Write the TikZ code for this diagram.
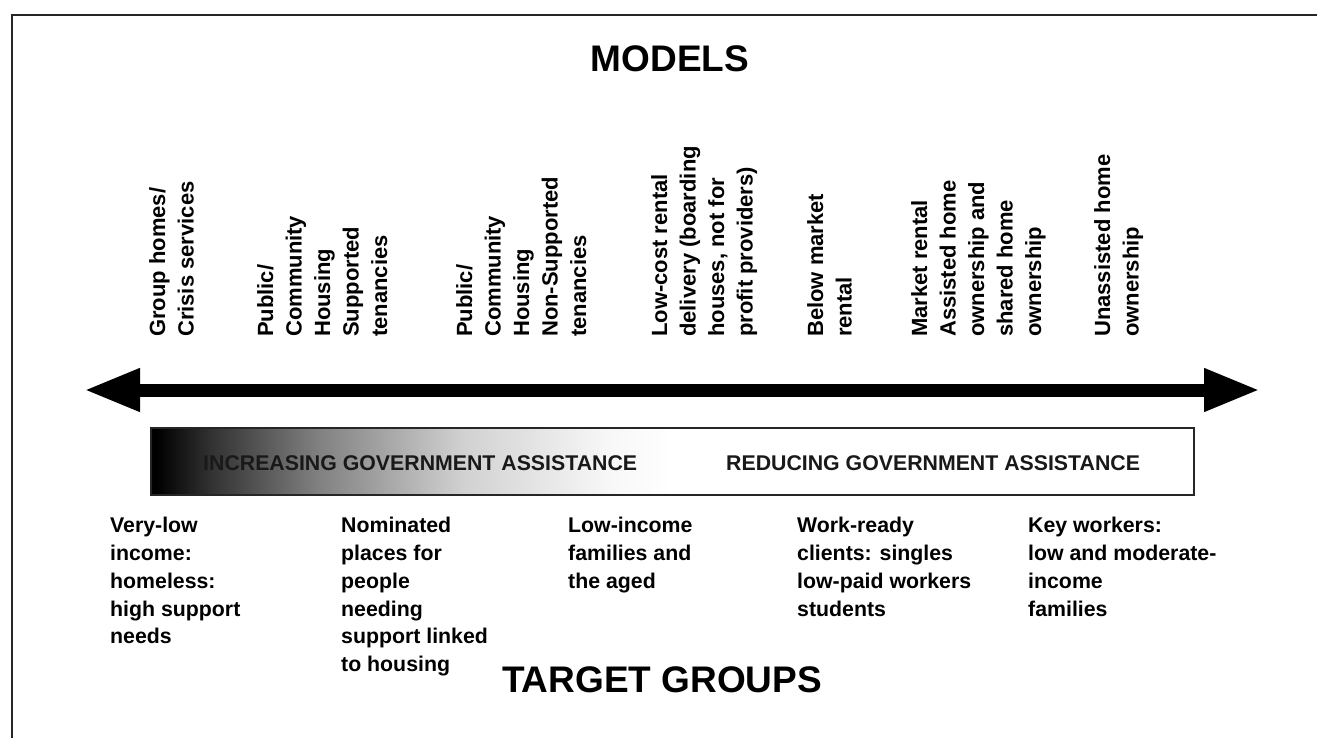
\documentclass[tikz,border=0pt]{standalone}
\usepackage{fontspec}
\setmainfont{Liberation Sans}
\usetikzlibrary{arrows.meta}
\pgfdeclarehorizontalshading{govshade}{100bp}{color(0bp)=(black); color(25.3bp)=(black); color(28bp)=(black!80); color(33bp)=(black!50); color(40bp)=(black!18); color(47bp)=(black!3); color(50bp)=(white); color(100bp)=(white)}
\begin{document}
\begin{tikzpicture}[x=1pt,y=-1pt,
  title/.style={font=\fontsize{37}{40}\selectfont\bfseries, inner sep=0, anchor=base},
  model/.style={rotate=90, anchor=north west, align=left, inner sep=0, font=\fontsize{22}{28.5}\selectfont\bfseries},
  target/.style={anchor=north west, align=left, inner sep=0, font=\fontsize{21.3}{27.8}\selectfont\bfseries},
  bartext/.style={anchor=base west, inner sep=0, font=\fontsize{21.3}{23}\selectfont\bfseries, text=black!90},
  frameline/.style={line width=2pt, draw=black!85},
  axisarrow/.style={line width=13pt, {Triangle[length=56pt,width=40pt]}-{Triangle[length=56pt,width=40pt]}}]
\useasboundingbox (0,0) rectangle (1317,738);
% frame
\coordinate (fTR) at (1317,15);
\coordinate (fTL) at (12,15);
\coordinate (fBL) at (12,738);
\draw[frameline] (fTR) -- (fTL) -- (fBL);
% titles
\node[title] (models) at (670,72) {MODELS};
\node[title] (targets) at (662,692) {TARGET GROUPS};
% models
\node[model] (m1) at (149,337) {Group homes/\\Crisis services};
\node[model] (m2) at (257,337) {Public/\\Community\\Housing\\Supported\\tenancies};
\node[model] (m3) at (456,337) {Public/\\Community\\Housing\\Non-Supported\\tenancies};
\node[model] (m4) at (651,337) {Low-cost rental\\delivery (boarding\\houses, not for\\profit providers)};
\node[model] (m5) at (807,337) {Below market\\rental};
\node[model] (m6) at (911,337) {Market rental\\Assisted home\\ownership and\\shared home\\ownership};
\node[model] (m7) at (1094,337) {Unassisted home\\ownership};
% axis arrow
\coordinate (aL) at (84,390);
\coordinate (aR) at (1260,390);
\draw[axisarrow] (aL) -- (aR);
% assistance bar
\shade[shading=govshade] (150,427) rectangle (1193,494);
\node[draw=black!85, line width=1.5pt, minimum width=1043pt, minimum height=67pt, inner sep=0, anchor=north west] (bar) at (150,427) {};
\node[bartext] (inc) at (203,470) {INCREASING GOVERNMENT ASSISTANCE};
\node[bartext] (red) at (726,470) {REDUCING GOVERNMENT ASSISTANCE};
% target groups
\node[target] (t1) at (110,517) {Very-low\\income:\\homeless:\\high support\\needs};
\node[target] (t2) at (341,517) {Nominated\\places for\\people\\needing\\support linked\\to housing};
\node[target] (t3) at (568,517) {Low-income\\families and\\the aged};
\node[target] (t4) at (797,517) {Work-ready\\clients: singles\\low-paid workers\\students};
\node[target] (t5) at (1028,517) {Key workers:\\low and moderate-\\income\\families};
\end{tikzpicture}
\end{document}
